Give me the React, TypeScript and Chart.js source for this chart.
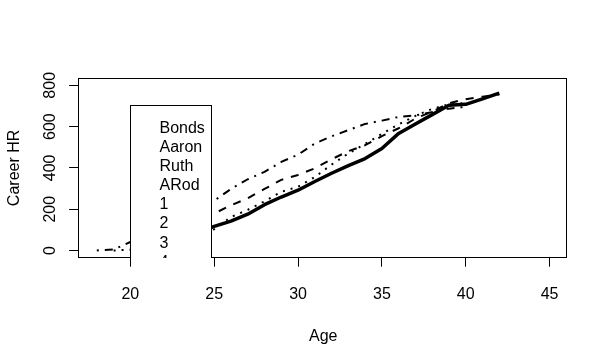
import React, { useEffect, useRef } from "react";
import { Chart, registerables } from "chart.js";

Chart.register(...registerables);

// ---- data (career home runs by age) ----
const bondsAge = [21, 22, 23, 24, 25, 26, 27, 28, 29, 30, 31, 32, 33, 34, 35, 36, 37, 38, 39, 40, 41, 42];
const bondsHR = [16, 41, 65, 84, 117, 142, 176, 222, 259, 292, 334, 374, 411, 445, 494, 567, 613, 658, 703, 708, 734, 762];

const aaronAge = [20, 21, 22, 23, 24, 25, 26, 27, 28, 29, 30, 31, 32, 33, 34, 35, 36, 37, 38, 39, 40, 41, 42];
const aaronHR = [13, 40, 66, 110, 140, 179, 219, 253, 298, 342, 366, 398, 442, 481, 510, 554, 592, 639, 673, 713, 733, 745, 755];

const ruthAge = [19, 20, 21, 22, 23, 24, 25, 26, 27, 28, 29, 30, 31, 32, 33, 34, 35, 36, 37, 38, 39, 40];
const ruthHR = [0, 4, 7, 9, 20, 49, 103, 162, 197, 238, 284, 309, 356, 416, 470, 516, 565, 611, 652, 686, 708, 714];

const arodAge = [18, 19, 20, 21, 22, 23, 24, 25, 26, 27, 28, 29, 30, 31, 32, 33, 34, 35, 36, 37, 39, 40];
const arodHR = [0, 5, 41, 64, 106, 148, 189, 241, 298, 345, 381, 429, 464, 518, 553, 583, 613, 629, 647, 654, 687, 696];

const legendLabels = ["Bonds", "Aaron", "Ruth", "ARod", "1", "2", "3", "4"];
const legendAnchor = [20, 700];

const xTicks = [20, 25, 30, 35, 40, 45];
const yTicks = [0, 200, 400, 600, 800];
const xLimits = [18, 45];
const yLimits = [0, 800];

const FONT = '"Liberation Sans", Arial, sans-serif';

function ext(lim: number[]) {
  const r = lim[1] - lim[0];
  return [lim[0] - 0.04 * r, lim[1] + 0.04 * r];
}

function pts(xs: number[], ys: number[]) {
  return xs.map((x, i) => ({ x, y: ys[i] }));
}

const framePlugin = {
  id: "rframe",
  afterDatasetsDraw(chart: any) {
    const { ctx, chartArea: a, scales } = chart;
    const xs = scales.x;
    const ys = scales.y;
    ctx.save();
    ctx.strokeStyle = "#000";
    ctx.lineWidth = 1;
    ctx.setLineDash([]);
    const L = Math.floor(a.left) + 0.5;
    const T = Math.floor(a.top) + 0.5;
    const R = Math.floor(a.right) - 0.5;
    const B = Math.floor(a.bottom) + 0.5;
    ctx.strokeRect(L, T, R - L, B - T);

    // legend (clipped to plot region, as in R)
    ctx.beginPath();
    ctx.rect(L - 0.5, T - 0.5, R - L + 1, B - T + 1);
    ctx.clip();
    ctx.font = "16px " + FONT;
    const bx = Math.floor(xs.getPixelForValue(legendAnchor[0])) + 0.5;
    const by = Math.floor(ys.getPixelForValue(legendAnchor[1])) + 0.5;
    const textLeft = bx + 29;
    let maxW = 0;
    legendLabels.forEach((l) => {
      maxW = Math.max(maxW, ctx.measureText(l).width);
    });
    const bw = Math.round(textLeft + maxW + 7 - bx);
    const step = 19.17;
    const bh = Math.round(legendLabels.length * step + 12);
    ctx.fillStyle = "#fff";
    ctx.fillRect(bx, by, bw, bh);
    ctx.strokeRect(bx, by, bw, bh);
    ctx.fillStyle = "#000";
    ctx.textAlign = "left";
    ctx.textBaseline = "alphabetic";
    legendLabels.forEach((l, i) => {
      ctx.fillText(l, textLeft, by + 27 + i * step);
    });
    ctx.restore();
  },
};

export default function App() {
  const ref = useRef<HTMLCanvasElement | null>(null);
  useEffect(() => {
    if (!ref.current) return;
    Chart.defaults.font.family = FONT;
    Chart.defaults.font.size = 16;
    Chart.defaults.color = "#000";
    const xr = ext(xLimits);
    const yr = ext(yLimits);
    const common = { pointRadius: 0, borderColor: "#000", fill: false, tension: 0, borderCapStyle: "butt", borderJoinStyle: "round", showLine: true };
    const chart = new Chart(ref.current, {
      type: "scatter",
      data: {
        datasets: [
          { ...common, label: "Bonds", data: pts(bondsAge, bondsHR), borderWidth: 3.5, borderDash: [], order: 1 },
          { ...common, label: "Aaron", data: pts(aaronAge, aaronHR), borderWidth: 2, borderDash: [8, 8], order: 2 },
          { ...common, label: "Ruth", data: pts(ruthAge, ruthHR), borderWidth: 2, borderDash: [2, 6], order: 3 },
          { ...common, label: "ARod", data: pts(arodAge, arodHR), borderWidth: 2, borderDash: [2, 6, 8, 6], order: 0 },
        ] as any,
      },
      options: {
        animation: false,
        responsive: false,
        devicePixelRatio: 1,
        layout: { padding: { left: 0, top: 78.7, right: 40.3, bottom: 0 } },
        plugins: { legend: { display: false }, tooltip: { enabled: false }, title: { display: false } },
        scales: {
          x: {
            type: "linear",
            min: xr[0],
            max: xr[1],
            afterBuildTicks: (s: any) => {
              s.ticks = xTicks.map((v) => ({ value: v }));
            },
            afterFit: (s: any) => {
              s.height = 97.9;
            },
            grid: { display: true, drawOnChartArea: false, drawTicks: true, tickLength: 9.6, color: "#000", lineWidth: 1 },
            border: { display: false },
            ticks: {
              color: "#000",
              font: { family: FONT, size: 16 },
              padding: 18.3,
              minRotation: 0,
              maxRotation: 0,
              autoSkip: false,
              callback: (v: any) => String(v),
            },
            title: { display: true, text: "Age", color: "#000", font: { family: FONT, size: 16 }, padding: { top: 0, bottom: 8.4 } },
          },
          y: {
            type: "linear",
            min: yr[0],
            max: yr[1],
            afterBuildTicks: (s: any) => {
              s.ticks = yTicks.map((v) => ({ value: v }));
            },
            afterFit: (s: any) => {
              s.width = 78.7;
            },
            grid: { display: true, drawOnChartArea: false, drawTicks: true, tickLength: 9.6, color: "#000", lineWidth: 1 },
            border: { display: false },
            ticks: {
              color: "#000",
              font: { family: FONT, size: 16 },
              padding: 5.35,
              minRotation: 90,
              maxRotation: 90,
              crossAlign: "center",
              autoSkip: false,
              callback: (v: any) => String(v),
            },
            title: { display: true, text: "Career HR", color: "#000", font: { family: FONT, size: 16 }, padding: { top: 4.7, bottom: 0 } },
          },
        },
      } as any,
      plugins: [framePlugin],
    });
    return () => chart.destroy();
  }, []);
  return (
    <div style={{ position: "fixed", left: 0, top: 0, width: 608, height: 355, background: "#fff" }}>
      <canvas ref={ref} width={608} height={355} style={{ width: 608, height: 355, display: "block" }} />
    </div>
  );
}
